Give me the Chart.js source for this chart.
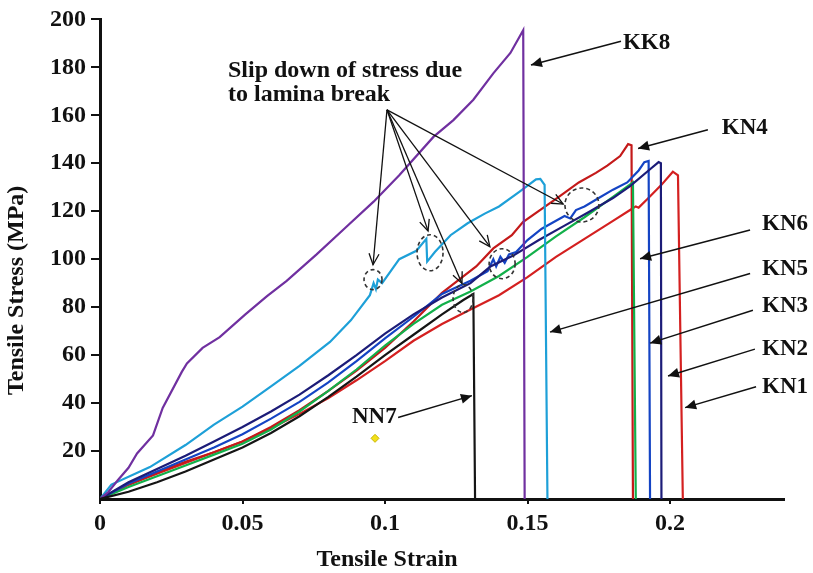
<!DOCTYPE html>
<html>
<head>
<meta charset="utf-8">
<script src="https://cdn.jsdelivr.net/npm/chart.js@4.4.1/dist/chart.umd.min.js"></script>
<style>
  html, body { margin: 0; padding: 0; background: #fff; }
  canvas { display: block; }
</style>
</head>
<body>
<canvas id="stressChart" width="813" height="573"></canvas>
<script>
'use strict';

// ============================================================
// Data: [tensile strain, tensile stress (MPa)]
// ============================================================
const KK8 = [[0,0],[0.003,3],[0.0063,7.9],[0.01,13],[0.013,19],[0.0186,26.5],[0.022,38],[0.0287,53],
  [0.0305,56.5],[0.036,63],[0.042,67.5],[0.051,77],[0.0585,84.5],[0.0655,91],[0.076,102],[0.086,113],
  [0.096,124],[0.105,135],[0.117,151],[0.124,158],[0.131,166.5],[0.138,177.5],[0.144,186],
  [0.1485,195.5],[0.149,0]];

const KN5 = [[0,0],[0.004,6],[0.0175,13.3],[0.03,22.5],[0.04,31],[0.05,38.5],[0.06,47],[0.07,55.5],
  [0.0807,65.5],[0.088,74.5],[0.0947,85],[0.096,90],[0.0968,87.5],[0.0975,91.5],[0.099,90],[0.105,100],
  [0.111,103.5],[0.1145,108.5],[0.1148,99],[0.1175,103],[0.123,110],[0.129,115],[0.135,119],[0.14,122],
  [0.147,128],[0.153,133.3],[0.1545,133.5],[0.156,131],[0.157,0]];

const NN7 = [[0,0],[0.01,3],[0.02,7],[0.03,11.5],[0.04,16.5],[0.05,21.5],[0.06,27.5],[0.07,34.5],
  [0.08,42.5],[0.09,51],[0.1,60],[0.11,68.5],[0.12,77],[0.1275,83],[0.131,85.5],[0.1316,0]];

const KN6 = [[0,0],[0.01,5],[0.02,9.5],[0.03,14],[0.04,18.5],[0.05,23],[0.06,29],[0.07,36.5],[0.08,45],
  [0.09,54],[0.1,64],[0.11,73],[0.12,81],[0.13,86.5],[0.14,93],[0.15,101],[0.16,109.5],[0.17,117.5],
  [0.18,126],[0.187,132],[0.188,0]];

const KN4 = [[0,0],[0.01,6],[0.02,11],[0.03,15.5],[0.04,19.5],[0.05,24],[0.06,30],[0.07,37],[0.08,45],
  [0.09,53.5],[0.1,63],[0.11,74],[0.12,86],[0.126,91.5],[0.132,97],[0.138,104.5],[0.1445,110],
  [0.1484,115.5],[0.155,121],[0.161,126],[0.168,132],[0.174,136],[0.178,139],[0.1825,143],
  [0.1853,148],[0.1865,147.5],[0.187,0]];

const KN3 = [[0,0],[0.01,6.5],[0.02,11.5],[0.03,16.5],[0.04,21.5],[0.05,27],[0.06,33.5],[0.07,40.5],
  [0.08,48.5],[0.09,57.5],[0.1,67],[0.11,76],[0.12,85.5],[0.13,91],[0.136,95],[0.138,100],[0.139,97],
  [0.1405,101],[0.142,98.5],[0.1435,102],[0.146,103],[0.15,108],[0.155,112.7],[0.16,116],[0.163,118],
  [0.165,117],[0.167,120.5],[0.17,122],[0.175,125.5],[0.18,129],[0.185,132],[0.189,137],[0.191,140.5],
  [0.1925,141],[0.193,0]];

const KN2 = [[0,0],[0.01,7],[0.02,12.5],[0.03,18],[0.04,24],[0.05,30],[0.06,36.5],[0.07,43.5],[0.08,51.5],
  [0.09,60],[0.1,69],[0.11,77],[0.12,84],[0.13,90],[0.137,97],[0.145,101.5],[0.154,108],[0.163,114],
  [0.172,120],[0.18,125.5],[0.186,130.5],[0.193,137.5],[0.196,140.5],[0.1968,140],[0.197,0]];

const KN1 = [[0,0],[0.01,6],[0.02,10.5],[0.03,15],[0.04,19.5],[0.05,24],[0.06,29.5],[0.07,35.5],[0.08,42],
  [0.09,49.5],[0.1,57.5],[0.11,66],[0.12,73],[0.13,79],[0.14,85],[0.15,92.5],[0.16,101],[0.17,108.5],
  [0.18,116],[0.186,120.5],[0.188,122],[0.189,121.5],[0.192,125],[0.197,131],[0.201,136.5],
  [0.2028,135],[0.2045,0]];

const YELLOW_MARK = [[0.0965, 25.3]];

// axis ticks
const X_TICKS = [0, 0.05, 0.1, 0.15, 0.2];
const Y_TICKS = [20, 40, 60, 80, 100, 120, 140, 160, 180, 200];

// ============================================================
// Annotations (data units)
// ============================================================
const LABELS = ['KK8', 'KN4', 'KN6', 'KN5', 'KN3', 'KN2', 'KN1', 'NN7'];
const LABEL_POS = [[0.1835,190.1],[0.2182,154.5],[0.2323,114.7],[0.2323,95.7],[0.2323,80.3],[0.2323,62.5],[0.2323,46.8],[0.0884,34.0]];
const LABEL_ARROW_FROM = [[0.1828,190.9],[0.2133,154.0],[0.2281,112.2],[0.2281,94.0],[0.2291,78.7],[0.2298,62.5],[0.2302,46.8],[0.1046,34.0]];
const LABEL_ARROW_TO = [[0.1512,181.0],[0.1888,146.2],[0.1895,100.2],[0.1579,69.6],[0.193,65.0],[0.1993,51.3],[0.2053,38.1],[0.1305,43.1]];

const NOTE_LINES = ['Slip down of stress due', 'to lamina break'];
const NOTE_POS = [[0.0449,178.5],[0.0449,168.5]];
const SLIP_APEX = [0.1007, 162.3];
const SLIP_TIPS = [[0.0958,97.7],[0.1151,111.8],[0.127,89.9],[0.1368,105.2],[0.1625,123.0]];
const SLIP_CIRCLES = [[0.0958,91.5],[0.1158,102.7],[0.1274,83.6],[0.1411,98.1],[0.1691,122.6]];

// ============================================================
// Styles
// ============================================================
const SERIF = '"Liberation Serif", "Times New Roman", serif';
const SERIES = [
  { name: 'NN7', data: NN7, color: '#151515' },
  { name: 'KK8', data: KK8, color: '#7030A0' },
  { name: 'KN5', data: KN5, color: '#1EA0D8' },
  { name: 'KN2', data: KN2, color: '#1C1C78' },
  { name: 'KN3', data: KN3, color: '#1444C4' },
  { name: 'KN6', data: KN6, color: '#12B04A' },
  { name: 'KN4', data: KN4, color: '#C41A1A' },
  { name: 'KN1', data: KN1, color: '#D42020' },
];
const CIRCLE_RADII = [[9,10],[13,18],[10,14],[13,15],[17,17]];

function drawArrow(ctx, x1, y1, x2, y2, filled) {
  const ang = Math.atan2(y2 - y1, x2 - x1);
  const len = 11, half = 5;
  ctx.beginPath();
  ctx.moveTo(x1, y1);
  ctx.lineTo(x2, y2);
  ctx.stroke();
  const bx = x2 - len * Math.cos(ang), by = y2 - len * Math.sin(ang);
  const nx = -Math.sin(ang) * half, ny = Math.cos(ang) * half;
  ctx.beginPath();
  ctx.moveTo(bx + nx, by + ny);
  ctx.lineTo(x2, y2);
  ctx.lineTo(bx - nx, by - ny);
  if (filled) {
    ctx.closePath();
    ctx.fill();
  } else {
    ctx.stroke();
  }
}

const annotationPlugin = {
  id: 'annotations',
  afterDatasetsDraw(chart) {
    const ctx = chart.ctx;
    const xs = chart.scales.x, ys = chart.scales.y;
    const px = v => xs.getPixelForValue(v);
    const py = v => ys.getPixelForValue(v);
    ctx.save();
    ctx.fillStyle = '#111';
    ctx.strokeStyle = '#111';

    // slip annotation text
    ctx.font = 'bold 24px ' + SERIF;
    ctx.textAlign = 'left';
    ctx.textBaseline = 'middle';
    NOTE_LINES.forEach((t, i) => ctx.fillText(t, px(NOTE_POS[i][0]), py(NOTE_POS[i][1])));

    // slip arrows
    ctx.lineWidth = 1.3;
    SLIP_TIPS.forEach(p => drawArrow(ctx, px(SLIP_APEX[0]), py(SLIP_APEX[1]), px(p[0]), py(p[1]), false));

    // dashed circles
    ctx.setLineDash([4, 3]);
    ctx.lineWidth = 1.6;
    ctx.strokeStyle = '#333';
    SLIP_CIRCLES.forEach((c, i) => {
      ctx.beginPath();
      ctx.ellipse(px(c[0]), py(c[1]), CIRCLE_RADII[i][0], CIRCLE_RADII[i][1], 0, 0, Math.PI * 2);
      ctx.stroke();
    });
    ctx.setLineDash([]);

    // series labels with arrows
    ctx.strokeStyle = '#111';
    ctx.lineWidth = 1.5;
    ctx.font = 'bold 23px ' + SERIF;
    LABELS.forEach((t, i) => {
      ctx.fillText(t, px(LABEL_POS[i][0]), py(LABEL_POS[i][1]));
      const a = LABEL_ARROW_FROM[i], b = LABEL_ARROW_TO[i];
      drawArrow(ctx, px(a[0]), py(a[1]), px(b[0]), py(b[1]), true);
    });

    // axis titles
    ctx.font = 'bold 24px ' + SERIF;
    ctx.textAlign = 'center';
    ctx.fillText('Tensile Strain', px(0.1) + 2, ys.bottom + 61);
    ctx.save();
    ctx.translate(17, py(87));
    ctx.rotate(-Math.PI / 2);
    ctx.fillText('Tensile Stress (MPa)', 0, 0);
    ctx.restore();

    ctx.restore();
  }
};

const datasets = SERIES.map(s => ({
  label: s.name,
  data: s.data,
  showLine: true,
  borderColor: s.color,
  borderWidth: 2.2,
  pointRadius: 0,
  tension: 0,
}));
datasets.push({
  label: 'marker',
  data: YELLOW_MARK,
  showLine: false,
  pointStyle: 'rectRot',
  pointRadius: 4,
  backgroundColor: '#F2E01A',
  borderColor: '#C9B400',
  borderWidth: 1,
});

new Chart(document.getElementById('stressChart').getContext('2d'), {
  type: 'scatter',
  data: { datasets },
  options: {
    responsive: false,
    animation: false,
    layout: { padding: { top: 16, right: 29, left: 0, bottom: 0 } },
    plugins: { legend: { display: false }, tooltip: { enabled: false } },
    scales: {
      x: {
        type: 'linear',
        min: 0,
        max: 0.24,
        afterFit(scale) { scale.height = 74; },
        afterBuildTicks(scale) { scale.ticks = X_TICKS.map(v => ({ value: v })); },
        grid: { drawOnChartArea: false, drawTicks: true, tickLength: 5, color: '#111', lineWidth: 2 },
        border: { display: true, color: '#111', width: 3 },
        ticks: {
          padding: 5,
          color: '#111',
          font: { family: SERIF, size: 24, weight: 'bold' },
          callback(v) { return String(+Number(v).toFixed(2)); },
        },
      },
      y: {
        min: 0,
        max: 200,
        afterFit(scale) { scale.width = 100; },
        afterBuildTicks(scale) { scale.ticks = Y_TICKS.map(v => ({ value: v })); },
        grid: { drawOnChartArea: false, drawTicks: true, tickLength: 9, color: '#111', lineWidth: 2 },
        border: { display: true, color: '#111', width: 3 },
        ticks: {
          padding: 5,
          color: '#111',
          font: { family: SERIF, size: 24, weight: 'bold' },
          callback(v) { return String(v); },
        },
      },
    },
  },
  plugins: [annotationPlugin],
});
</script>
</body>
</html>
